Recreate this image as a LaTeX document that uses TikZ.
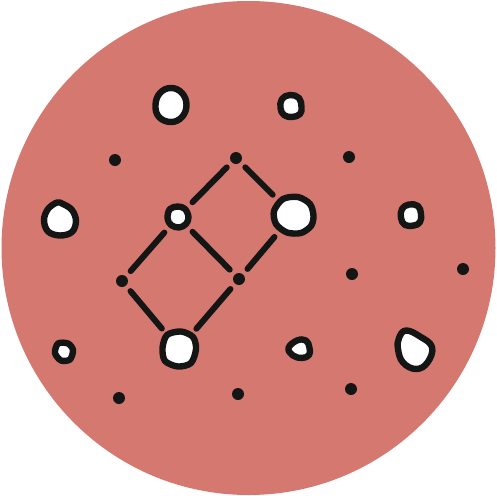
\documentclass[tikz,border=0pt]{standalone}
\definecolor{salmon}{HTML}{D47870}
\definecolor{ink}{HTML}{141616}
\begin{document}
\begin{tikzpicture}[x=1pt,y=-1pt,
  anchorpt/.style={circle,inner sep=0pt,draw=none},
  blobline/.style={draw=ink,fill=white,line width=6.4pt,line join=round},
  dot/.style={circle,fill=ink,inner sep=0pt,minimum size=12pt},
  link/.style={draw=ink,line width=6pt,line cap=round,shorten >=7pt,shorten <=7pt}]
\useasboundingbox (0,0) rectangle (496,496);
\fill[salmon] (248.5,248) circle (247);
% blob anchors
\node[anchorpt,minimum size=37pt] (b1) at (171,105) {};
\node[anchorpt,minimum size=26pt] (b2) at (291,106) {};
\node[anchorpt,minimum size=38pt] (b3) at (60,219) {};
\node[anchorpt,minimum size=27pt] (b4) at (178,217) {};
\node[anchorpt,minimum size=43pt] (b5) at (293,215) {};
\node[anchorpt,minimum size=26pt] (b6) at (411,215) {};
\node[anchorpt,minimum size=22pt] (b7) at (64,352) {};
\node[anchorpt,minimum size=39pt] (b8) at (179,349) {};
\node[anchorpt,minimum size=25pt] (b9) at (299,349) {};
\node[anchorpt,minimum size=42pt] (b10) at (415,349) {};
% blob outlines
\draw[blobline,shift={(b1.center)}] plot[smooth cycle,tension=0.7] coordinates {(15.5,0) (11,-12) (0,-17) (-11,-12) (-15.5,0) (-12,12) (0,17) (11,12)};
\draw[blobline,shift={(b2.center)}] plot[smooth cycle,tension=0.7] coordinates {(10.5,1) (8,-8) (-1,-11) (-9,-7) (-10.5,2) (-7,9) (1,11) (9,8)};
\draw[blobline,shift={(b3.center)}] plot[smooth cycle,tension=0.6] coordinates {(16,2) (12,-9) (3,-15) (-3,-16.5) (-12,-10) (-16,1) (-12,12.5) (0,16.5) (12,13)};
\draw[blobline,shift={(b4.center)}] plot[smooth cycle,tension=0.6] coordinates {(10.5,0) (7,-8) (0,-10.5) (-8,-8) (-10.5,1) (-7,8) (1,10.5) (8,7)};
\draw[blobline,shift={(b5.center)}] plot[smooth cycle,tension=0.5] coordinates {(20.5,1) (17,-11) (5,-18) (-10,-16) (-19,-4) (-17,9) (-6,17.5) (8,18) (18,11)};
\draw[blobline,shift={(b6.center)}] plot[smooth cycle,tension=0.7] coordinates {(10,-1) (7,-9) (-2,-10.5) (-9,-6) (-10,3) (-6,10) (3,10.5) (9,7)};
\draw[blobline,shift={(b7.center)}] plot[smooth cycle,tension=0.5] coordinates {(9,-2) (4,-8.5) (-6,-8.5) (-9,1) (-3,8.5) (6,7.5)};
\draw[blobline,shift={(b8.center)}] plot[smooth cycle,tension=0.5] coordinates {(17,0) (14,-12) (2,-17.5) (-12,-14) (-16.5,-1) (-14,12) (-1,17.5) (12,14)};
\draw[blobline,shift={(b9.center)}] plot[smooth cycle,tension=0.7] coordinates {(10.5,-1) (7,-8.5) (-2,-8.5) (-10.5,-1) (-6,6.5) (3,9) (10,6)};
\draw[blobline,shift={(b10.center)}] plot[smooth cycle,tension=0.7] coordinates {(-9,-18.5) (5,-12.5) (17,-2) (12.5,13.5) (1,20) (-12,13.5) (-17,0) (-16,-11)};
% dots
\node[dot] (d1) at (115,160) {};
\node[dot] (d2) at (349,157) {};
\node[dot] (top) at (236,158) {};
\node[dot] (left) at (122,281) {};
\node[dot] (mid) at (239,279) {};
\node[dot] (d3) at (352,274) {};
\node[dot] (d4) at (463,269) {};
\node[dot] (d5) at (119,398) {};
\node[dot] (d6) at (238,394) {};
\node[dot] (d7) at (351,389) {};
% lattice links
\draw[link] (top) -- (b4);
\draw[link] (top) -- (b5);
\draw[link] (b4) -- (left);
\draw[link] (b4) -- (mid);
\draw[link] (b5) -- (mid);
\draw[link] (left) -- (b8);
\draw[link] (mid) -- (b8);
\end{tikzpicture}
\end{document}
